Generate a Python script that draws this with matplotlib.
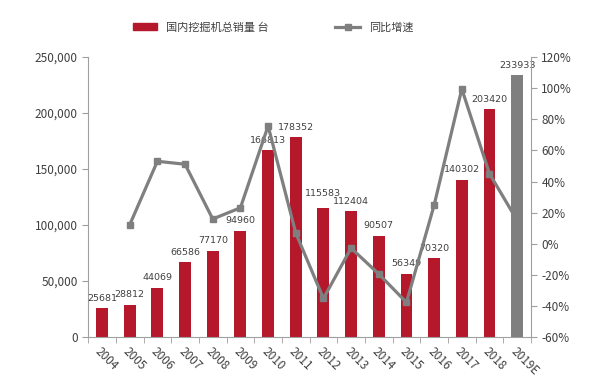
import numpy as np
import matplotlib
matplotlib.use('Agg')
import matplotlib.pyplot as plt
from matplotlib.lines import Line2D
from matplotlib.patches import Patch

plt.rcParams['font.family'] = ['Noto Sans CJK SC', 'DejaVu Sans']

# データ
years = ['2004', '2005', '2006', '2007', '2008', '2009', '2010', '2011',
         '2012', '2013', '2014', '2015', '2016', '2017', '2018', '2019E']
sales = [25681, 28812, 44069, 66586, 77170, 94960, 166813, 178352,
         115583, 112404, 90507, 56349, 70320, 140302, 203420, 233933]
growth = [None, 12.2, 53.0, 51.1, 15.9, 23.1, 75.7, 6.9,
          -35.2, -2.8, -19.5, -37.7, 24.8, 99.5, 45.0, 15.0]
bar_label = '国内挖掘机总销量 台'
line_label = '同比增速'

red = '#B5172B'
grey = '#7F7F7F'
axis_col = '#A0A0A0'
text_col = '#404040'

fig = plt.figure(figsize=(6, 3.91), dpi=100)
ax = fig.add_axes([0.147, 0.138, 0.738, 0.716])
ax2 = ax.twinx()

x = np.arange(len(years))
colors = [red] * (len(years) - 1) + [grey]
ax.bar(x, sales, width=0.43, color=colors, zorder=2)
ax.set_ylim(0, 250000)
ax.set_xlim(-0.5, len(years) - 0.5)

# データラベル（2012年だけ少し上にずらす）
for i, v in enumerate(sales):
    dy = 7 if years[i] == '2012' else 4
    ax.annotate(str(v), (i, v), xytext=(0, dy), textcoords='offset points',
                ha='center', va='bottom', fontsize=6.8, color=text_col,
                family='DejaVu Sans', zorder=3)

# 同比増速
gx = [i for i, g in enumerate(growth) if g is not None]
gy = [g / 100 for g in growth if g is not None]
ax2.plot(gx[:-1], gy[:-1], color=grey, lw=2.3, marker='s', markersize=5,
         zorder=3)
ax2.plot(gx[-2:], gy[-2:], color=grey, lw=2.3, zorder=1)
ax2.set_ylim(-0.6, 1.2)
ax2.set_yticks(np.arange(-0.6, 1.21, 0.2))
ax2.set_yticklabels([f'{int(round(t * 100))}%' for t in np.arange(-0.6, 1.21, 0.2)])

# 2019E のバーは線の上に
ax.set_zorder(1)
ax2.set_zorder(2)
ax2.patch.set_visible(False)
ax2.bar([x[-1]], [sales[-1] / 250000 * 1.8], bottom=-0.6, width=0.43,
        color=grey, zorder=2)

ax.set_yticks(np.arange(0, 250001, 50000))
ax.set_yticklabels([f'{t:,}' for t in range(0, 250001, 50000)])
ax.set_xticks(x)
ax.set_xticklabels(years, rotation=-45, ha='left', rotation_mode='anchor')
ax.set_xticks(np.arange(-0.5, len(years), 1), minor=True)
ax.tick_params(axis='x', which='major', length=0, pad=6, labelsize=8.5,
               colors=text_col)
ax.tick_params(axis='x', which='minor', length=4, color=axis_col)
ax.tick_params(axis='y', length=4, color=axis_col, labelsize=8.5,
               labelcolor=text_col)
ax2.tick_params(axis='y', length=4, color=axis_col, labelsize=8.5,
                labelcolor=text_col)

for a in (ax, ax2):
    a.spines['top'].set_visible(False)
    for s in ('left', 'right', 'bottom'):
        a.spines[s].set_color(axis_col)
ax.spines['right'].set_visible(False)
ax2.spines['left'].set_visible(False)
ax2.spines['bottom'].set_visible(False)

# 凡例
handles = [Patch(color=red),
           Line2D([0], [0], color=grey, lw=2.3, marker='s', markersize=5)]
fig.legend(handles, [bar_label, line_label], loc='center',
           bbox_to_anchor=(0.455, 0.93), ncol=2, frameon=False, fontsize=8,
           handlelength=2.2, handleheight=0.6, columnspacing=6,
           labelcolor=text_col)

fig.savefig('out.png', dpi=100)
